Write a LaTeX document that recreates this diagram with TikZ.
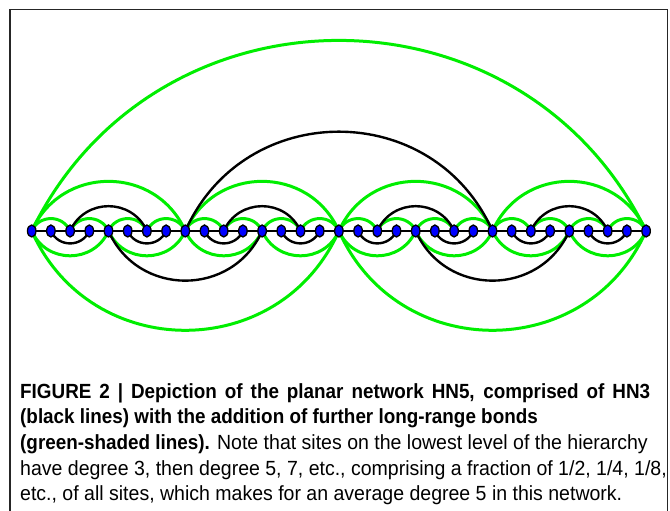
\documentclass[tikz,border=0pt]{standalone}
\usepackage{fontspec}
\setmainfont{Liberation Sans}[FakeStretch=0.952,BoldFeatures={FakeStretch=0.92}]
\usetikzlibrary{shapes.geometric,backgrounds}

\definecolor{bondgreen}{RGB}{0,238,0}

\tikzset{
  site/.style={ellipse,draw=black,fill=blue,line width=1.3pt,minimum width=8.5pt,minimum height=12pt,inner sep=0pt},
  hnbond/.style={line width=2.4pt,black},
  lrbond/.style={line width=3pt,bondgreen},
  arcup/.style={bend left=66,looseness=1.21},
  arcdown/.style={bend right=66,looseness=1.21},
  arctop/.style={bend left=64,looseness=1.18}
}

\begin{document}
\begin{tikzpicture}[x=1pt,y=1pt]
\useasboundingbox (0,0) rectangle (670,511);
\draw[line width=1.3pt,black!85] (10,0) -- (10,501.5) -- (667.5,501.5) -- (667.5,0);
% sites of the network
\foreach \i in {0,...,32}
  \node[site] (n\i) at ({31.7+19.2*\i},280) {};
\begin{pgfonlayer}{background}
% further long-range bonds
\foreach \a [evaluate=\a as \b using int(\a+2)] in {0,2,...,30}
  \draw[lrbond] (n\a.center) to[arcup] (n\b.center);
\foreach \a [evaluate=\a as \b using int(\a+4)] in {0,4,...,28}
  \draw[lrbond] (n\a.center) to[arcdown] (n\b.center);
\foreach \a [evaluate=\a as \b using int(\a+8)] in {0,8,16,24}
  \draw[lrbond] (n\a.center) to[arcup] (n\b.center);
\draw[lrbond] (n0.center) to[arcdown] (n16.center);
\draw[lrbond] (n16.center) to[arcdown] (n32.center);
\draw[lrbond] (n0.center) to[arctop] (n32.center);
% HN3
\draw[line width=2pt] (n0.center) -- (n32.center);
\foreach \a [evaluate=\a as \b using int(\a+2)] in {1,5,...,29}
  \draw[hnbond] (n\a.center) to[arcdown] (n\b.center);
\foreach \a [evaluate=\a as \b using int(\a+4)] in {2,10,18,26}
  \draw[hnbond] (n\a.center) to[arcup] (n\b.center);
\draw[hnbond] (n4.center) to[arcdown] (n12.center);
\draw[hnbond] (n20.center) to[arcdown] (n28.center);
\draw[hnbond] (n8.center) to[arcup] (n24.center);
\end{pgfonlayer}
\node[anchor=north west,align=left,inner sep=0pt,font=\fontsize{20.5}{25.7}\selectfont] (caption) at (20,128)
  {\makebox[630pt][s]{\textbf{FIGURE 2 | Depiction of the planar network HN5, comprised of HN3}}\\
   \textbf{(black lines) with the addition of further long-range bonds}\\
   \textbf{(green-shaded lines).} Note that sites on the lowest level of the hierarchy\\
   have degree 3, then degree 5, 7, etc., comprising a fraction of 1/2, 1/4, 1/8,\\
   etc., of all sites, which makes for an average degree 5 in this network.};
\end{tikzpicture}
\end{document}
